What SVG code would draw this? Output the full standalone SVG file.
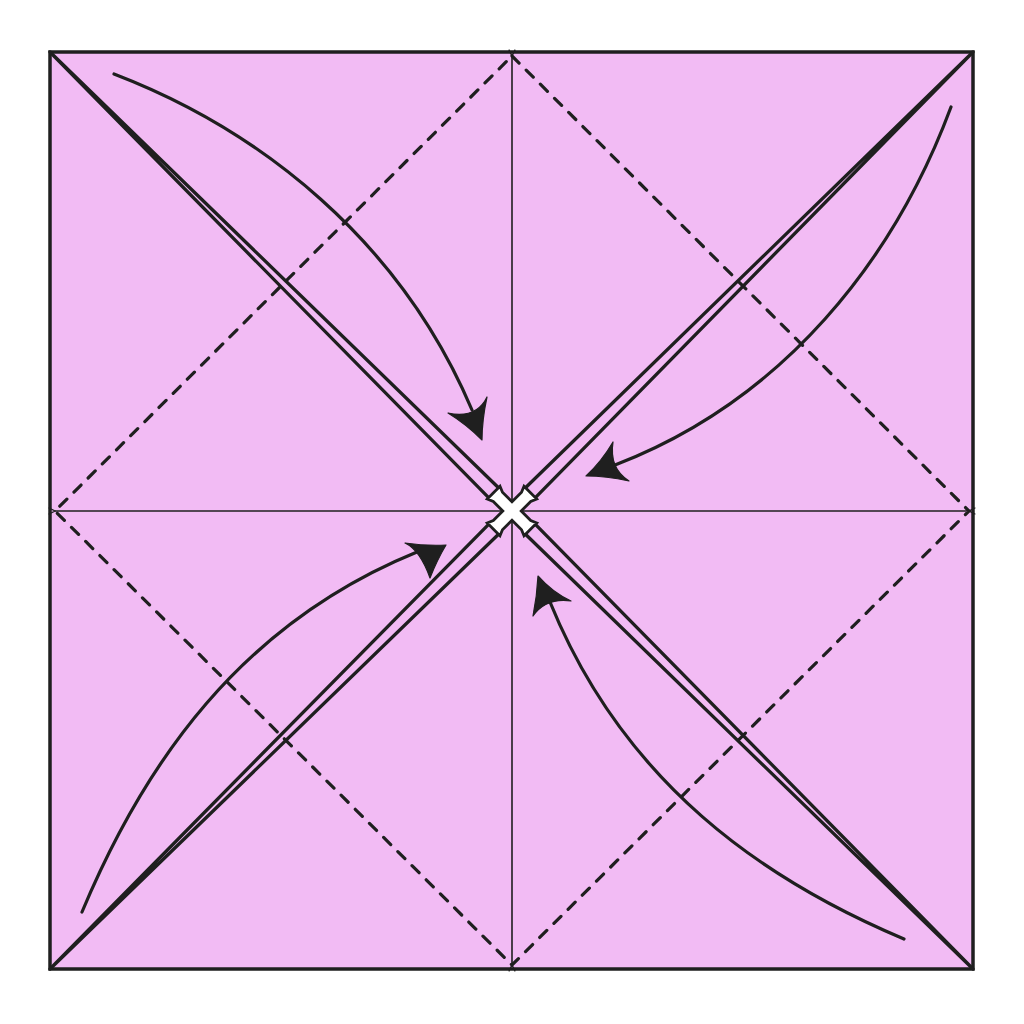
<svg xmlns="http://www.w3.org/2000/svg" width="1024" height="1024" viewBox="0 0 1024 1024">
<defs>
<style>
.paper{fill:#f2bbf4;stroke:#1f1f1f;stroke-width:3.5;stroke-linejoin:miter}
.crease{fill:none;stroke:#1f1f1f;stroke-width:1.6}
.valley{fill:none;stroke:#1f1f1f;stroke-width:3.2;stroke-dasharray:10 10;stroke-linecap:round}
.edge{fill:none;stroke:#1f1f1f;stroke-width:3.3;stroke-linecap:round;stroke-linejoin:round}
.arrow{fill:none;stroke:#1f1f1f;stroke-width:3.2;stroke-linecap:round}
.head{fill:#1f1f1f;stroke:#1f1f1f;stroke-width:1.2;stroke-linejoin:round}
.pt{fill:#ffffff;stroke:#1f1f1f;stroke-width:2.8;stroke-linejoin:miter}
</style>
<marker id="chev" viewBox="0 0 10 10" refX="1" refY="5" markerWidth="8" markerHeight="8" markerUnits="userSpaceOnUse" orient="auto-start-reverse">
<path d="M9,1 L1,5 L9,9" fill="none" stroke="#1f1f1f" stroke-width="1.6"/>
</marker>
</defs>
<rect width="1024" height="1024" fill="#ffffff"/>
<g id="paper">
<rect class="paper" x="50" y="52" width="923" height="917"/>
</g>
<g id="creases">
<line class="crease" x1="512" y1="56" x2="512" y2="965" marker-start="url(#chev)" marker-end="url(#chev)"/>
<line class="crease" x1="55" y1="511" x2="969" y2="511" marker-start="url(#chev)" marker-end="url(#chev)"/>
<polygon class="valley" points="512,56 969,511 512,965 55,511"/>
</g>
<g id="flaps">
<polyline class="edge" points="498.5,487.7 50,52 488.6,497.6"/>
<polyline class="edge" points="535.4,497.6 973,52 525.5,487.7"/>
<polyline class="edge" points="525.5,534.3 973,969 535.4,524.4"/>
<polyline class="edge" points="488.6,524.3 50,969 498.5,534.3"/>
</g>
<g id="center-point">
<polygon class="pt" transform="translate(512,511) rotate(45)" points="6.5,-6.5 20,-6.5 26,-9 26,9 20,6.5 6.5,6.5 6.5,20 9,26 -9,26 -6.5,20 -6.5,6.5 -20,6.5 -26,9 -26,-9 -20,-6.5 -6.5,-6.5 -6.5,-20 -9,-26 9,-26 6.5,-20"/>
</g>
<g id="connectors">
<path class="arrow" d="M114,74 C260,130 400,240 472,410"/>
<path class="head" d="M448,413 Q476.5,419 487,397 Q482,420 482,440 Q466,424 448,413 Z"/>
<path class="arrow" d="M951,107 C894,260 784,400 615,465"/>
<path class="head" d="M613,442 Q609,468.5 629,481 Q606,476 586,476 Q602,461 613,442 Z"/>
<path class="arrow" d="M904,939 C764,880 624,784 550,602"/>
<path class="head" d="M571,601 Q546,597.5 533,616 Q537,596 538,576 Q553,593 571,601 Z"/>
<path class="arrow" d="M82,912 C144,764 240,624 417,552"/>
<path class="head" d="M405,543 Q420,550 430,578 Q437,560 446,545 Q426,546 405,543 Z"/>
</g>
</svg>
